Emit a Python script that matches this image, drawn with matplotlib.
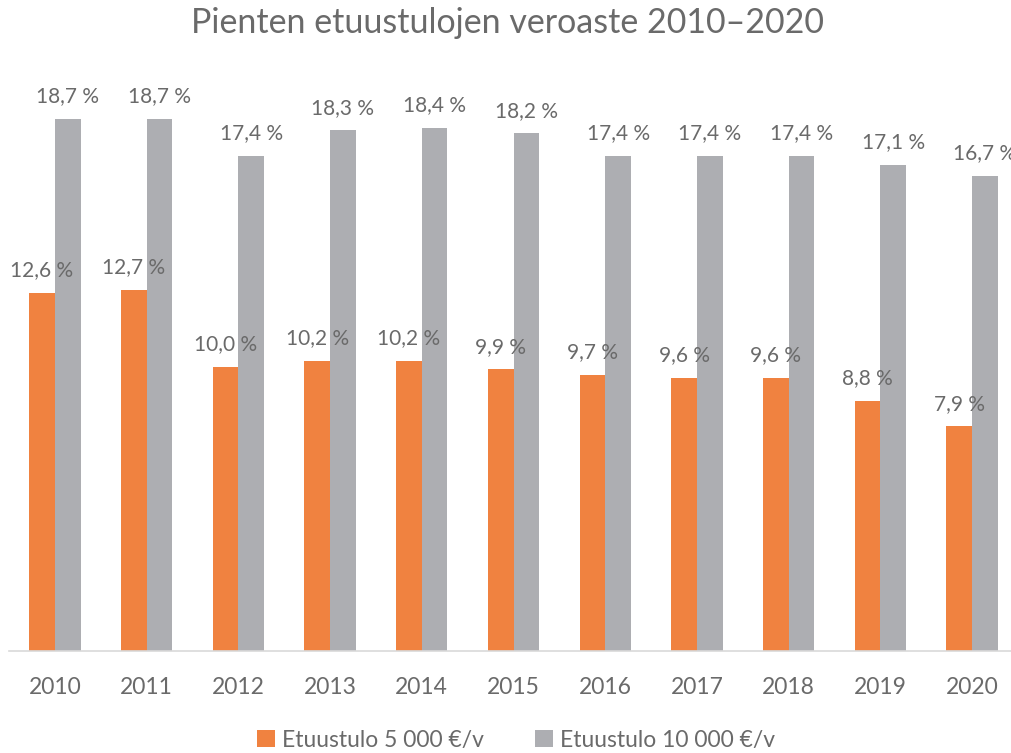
import numpy as np
import matplotlib
matplotlib.use("Agg")
import matplotlib.pyplot as plt

years = ["2010", "2011", "2012", "2013", "2014", "2015", "2016", "2017", "2018", "2019", "2020"]
tulo_5000 = [12.6, 12.7, 10.0, 10.2, 10.2, 9.9, 9.7, 9.6, 9.6, 8.8, 7.9]
tulo_10000 = [18.7, 18.7, 17.4, 18.3, 18.4, 18.2, 17.4, 17.4, 17.4, 17.1, 16.7]
series_names = ["Etuustulo 5 000 €/v", "Etuustulo 10 000 €/v"]

orange = "#F08240"
grey = "#ADAEB2"
txt = "#6A6A6A"

plt.rcParams["font.family"] = ["Lato", "DejaVu Sans"]

W, H = 1012, 753
fig = plt.figure(figsize=(W / 100, H / 100), dpi=100)
# axes in pixel units: baseline at y=651, category spacing ~91.7 px
ax = fig.add_axes([9 / W, (H - 651) / H, 1009 / W, 569 / H])

x = np.arange(len(years))
bw = 0.28
b1 = ax.bar(x - bw / 2, tulo_5000, bw, color=orange, label=series_names[0])
b2 = ax.bar(x + bw / 2, tulo_10000, bw, color=grey, label=series_names[1])

def fmt(v):
    return ("%.1f %%" % v).replace(".", ",")

for bars, vals in ((b1, tulo_5000), (b2, tulo_10000)):
    for r, v in zip(bars, vals):
        ax.annotate(fmt(v), (r.get_x() + r.get_width() / 2, v),
                    xytext=(0, 9), textcoords="offset points",
                    ha="center", va="bottom", fontsize=15, color=txt)

ax.set_xlim(-0.5, len(years) - 0.5)
ax.set_ylim(0, 20)
ax.set_xticks(x)
ax.set_xticklabels(years, fontsize=16.5, color=txt)
ax.tick_params(axis="x", length=0, pad=19)
ax.set_yticks([])
for s in ("top", "right", "left"):
    ax.spines[s].set_visible(False)
ax.spines["bottom"].set_color("#D9D9D9")
ax.spines["bottom"].set_linewidth(1.2)

fig.text(508 / W, 1 - 23 / H, "Pienten etuustulojen veroaste 2010–2020",
         ha="center", va="center", fontsize=24.5, color=txt)

fig.legend(handles=[b1, b2], labels=series_names, loc="center",
           bbox_to_anchor=(516 / W, 1 - 740 / H), ncol=2, frameon=False,
           fontsize=16.5, labelcolor=txt, handlelength=0.8, handleheight=0.8,
           handletextpad=0.3, columnspacing=2.2)

fig.savefig("out.png", dpi=100)
